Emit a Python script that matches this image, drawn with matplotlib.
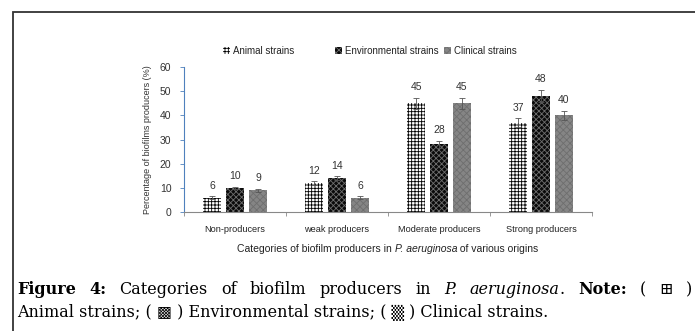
import numpy as np
import matplotlib
matplotlib.use("Agg")
import matplotlib.pyplot as plt
from matplotlib.patches import Rectangle

# data
categories = ["Non-producers", "weak producers", "Moderate producers", "Strong producers"]
series = ["Animal strains", "Environmental strains", "Clinical strains"]
animal = [6, 12, 45, 37]
environmental = [10, 14, 28, 48]
clinical = [9, 6, 45, 40]
animal_err = [0.5, 0.8, 2.2, 1.8]
environmental_err = [0.5, 0.8, 1.5, 2.5]
clinical_err = [0.6, 0.5, 2.2, 2.0]
yticks = [0, 10, 20, 30, 40, 50, 60]

W, H = 695, 331
plt.rcParams["hatch.linewidth"] = 0.6
sans = ["Liberation Sans", "DejaVu Sans"]
serif = ["DejaVu Serif", "DejaVu Sans"]

fig = plt.figure(figsize=(W / 100, H / 100), dpi=100)
ax = fig.add_axes([184 / W, 1 - 212 / H, (592 - 184) / W, (212 - 67) / H])

x = np.arange(len(categories))
width = 0.176
pitch = 0.225
styles = [
    dict(color="white", edgecolor="black", hatch="+++++"),
    dict(color="#0a0a0a", edgecolor="#6e6e6e", hatch="xxxxxx"),
    dict(color="#858585", edgecolor="#6e6e6e", hatch="xxxxx"),
]
values = [animal, environmental, clinical]
errors = [animal_err, environmental_err, clinical_err]
handles = []
for i, (vals, errs, st) in enumerate(zip(values, errors, styles)):
    pos = x + (i - 1) * pitch
    b = ax.bar(pos, vals, width, facecolor=st["color"], edgecolor=st["edgecolor"],
               hatch=st["hatch"], linewidth=0, label=series[i], zorder=2)
    handles.append(b)
    ax.errorbar(pos, vals, yerr=errs, fmt="none", ecolor="#555555", elinewidth=0.6,
                capsize=2, capthick=0.6, zorder=3)
    for p, v, e in zip(pos, vals, errs):
        ax.annotate(str(v), (p, v + e), xytext=(0, 4), textcoords="offset points",
                    ha="center", va="bottom", fontsize=7.5, family=sans, color="#333333")

ax.set_xlim(-0.5, 3.5)
ax.set_ylim(0, 60)
ax.set_yticks(yticks)
ax.set_yticklabels([str(t) for t in yticks], fontsize=7.5, family=sans, color="#333333")
ax.set_xticks(x)
ax.set_xticklabels(categories, fontsize=6.6, family=sans, color="#222222")
ax.set_xticks(np.arange(-0.5, 4, 1), minor=True)
ax.tick_params(axis="x", which="major", length=0, pad=9)
ax.tick_params(axis="x", which="minor", length=3, color="#888888", width=0.6)
ax.tick_params(axis="y", length=3, color="#4f81bd", width=0.6, pad=6)
for s in ["top", "right"]:
    ax.spines[s].set_visible(False)
ax.spines["left"].set_color("#4f81bd")
ax.spines["left"].set_linewidth(0.8)
ax.spines["bottom"].set_color("#888888")
ax.spines["bottom"].set_linewidth(0.8)
ax.set_ylabel("Percentage of biofilms producers (%)", fontsize=6.5, family=sans,
              color="#333333", labelpad=6)

# legend, one entry per column like the original
legend_x = [223, 335, 444]
for h, lab, lx in zip(handles, series, legend_x):
    lg = fig.legend([h], [lab], loc="center left", bbox_to_anchor=(lx / W, 1 - 51 / H),
                    frameon=False, handlelength=0.7, handleheight=0.7,
                    handletextpad=0.3, borderpad=0, borderaxespad=0,
                    prop={"family": sans, "size": 7})
    for t in lg.get_texts():
        t.set_color("#222222")

renderer = fig.canvas.get_renderer()


def run_width(s, size, family, kw):
    probe = fig.text(0, 0, s + "|", fontsize=size, family=family, **kw)
    bar_t = fig.text(0, 0, "|", fontsize=size, family=family, **kw)
    w = probe.get_window_extent(renderer).width - bar_t.get_window_extent(renderer).width
    probe.remove()
    bar_t.remove()
    return w


def text_runs(x_px, y_px, runs, size, family, ha="left", color="black"):
    widths = [run_width(s, size, family, kw) for s, kw in runs]
    xx = x_px - sum(widths) / 2 if ha == "center" else x_px
    for (s, kw), w in zip(runs, widths):
        fig.text(xx / W, 1 - y_px / H, s, fontsize=size, family=family,
                 va="baseline", color=color, **kw)
        xx += w


def justified_line(x0, x1, y_px, words, size, family):
    # words: list of words, each a list of (text, style) runs
    wws = [[run_width(s, size, family, kw) for s, kw in wd] for wd in words]
    total = sum(sum(w) for w in wws)
    gap = (x1 - x0 - total) / (len(words) - 1)
    xx = x0
    for wd, ws in zip(words, wws):
        for (s, kw), w in zip(wd, ws):
            fig.text(xx / W, 1 - y_px / H, s, fontsize=size, family=family,
                     va="baseline", color="black", **kw)
            xx += w
        xx += gap


text_runs(388, 252, [("Categories of biofilm producers in ", {}),
                     ("P. aeruginosa", {"style": "italic"}),
                     (" of various origins", {})], 7.5, sans, ha="center", color="#222222")

bold = {"weight": "bold"}
ital = {"style": "italic"}
line1 = [[("Figure", bold)], [("4:", bold)]]
line1 += [[(w, {})] for w in "Categories of biofilm producers in".split()]
line1 += [[("P.", ital)], [("aeruginosa", ital), (".", {})], [("Note:", bold)],
          [("(", {})], [("\u229e", {})], [(")", {})]]
justified_line(17, 692, 294, line1, 11.5, serif)
text_runs(17, 317, [("Animal strains; ( \u25a9 ) Environmental strains; ( \u2592 ) Clinical strains.", {})],
          11.5, serif)

# frame around the figure panel
fig.add_artist(Rectangle((13 / W, -0.1), 2, 1 - 12 / H + 0.1, transform=fig.transFigure,
                         fill=False, linewidth=1.3, edgecolor="#333333"))

fig.savefig("out.png", dpi=100)
